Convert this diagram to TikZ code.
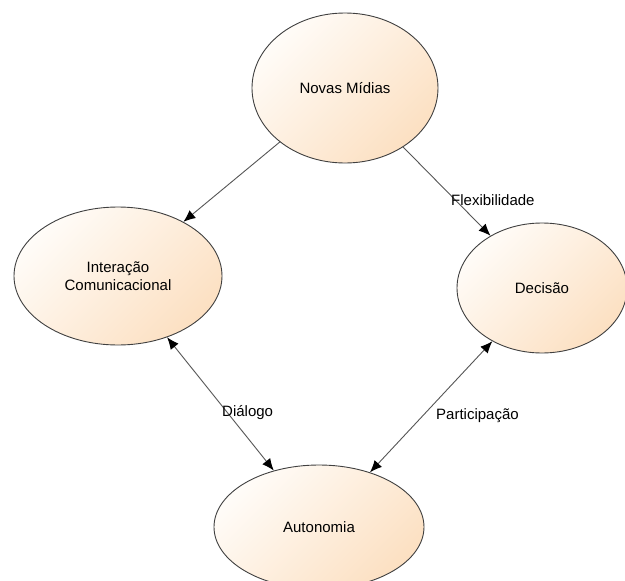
\documentclass[tikz,border=0pt]{standalone}
\usepackage{fontspec}
\setmainfont{Liberation Sans}
\usetikzlibrary{shapes.geometric,arrows.meta}
\definecolor{peachL}{HTML}{FFFCF8}
\definecolor{peachD}{HTML}{FCE0C2}
\definecolor{edgegray}{HTML}{555555}
\tikzset{
  state/.style={ellipse, draw=black!75, line width=0.9pt, top color=peachL, bottom color=peachD, shading angle=45, inner sep=0pt, align=center, font=\fontsize{15}{18}\selectfont},
  tip/.tip={Latex[length=12pt,width=10pt,color=black]},
  link/.style={draw=edgegray, line width=0.9pt, -tip},
  blink/.style={draw=edgegray, line width=0.9pt, tip-tip},
  lbl/.style={font=\fontsize{15}{18}\selectfont, inner sep=0pt, anchor=west}
}
\begin{document}
\begin{tikzpicture}[x=1pt,y=-1pt]
\useasboundingbox (0,0) rectangle (625,581);
\clip (0,0) rectangle (625,581);
\fill[white] (0,0) rectangle (625,581);
\node[state, minimum width=186pt, minimum height=150pt] (nm) at (345,88) {Novas Mídias};
\node[state, minimum width=208pt, minimum height=138pt] (ic) at (118,276) {Interação\\Comunicacional};
\node[state, minimum width=170pt, minimum height=130pt] (de) at (542,288) {Decisão};
\node[state, minimum width=210pt, minimum height=124pt] (au) at (319,527) {Autonomia};
\draw[link] (nm) -- (ic);
\draw[link] (nm) -- (de);
\draw[blink] (ic) -- (au);
\draw[blink] (de) -- (au);
\node[lbl] (lf) at (451,200) {Flexibilidade};
\node[lbl] (ld) at (222,413) {Diálogo};
\node[lbl] (lp) at (436,416) {Participação};
\end{tikzpicture}
\end{document}
